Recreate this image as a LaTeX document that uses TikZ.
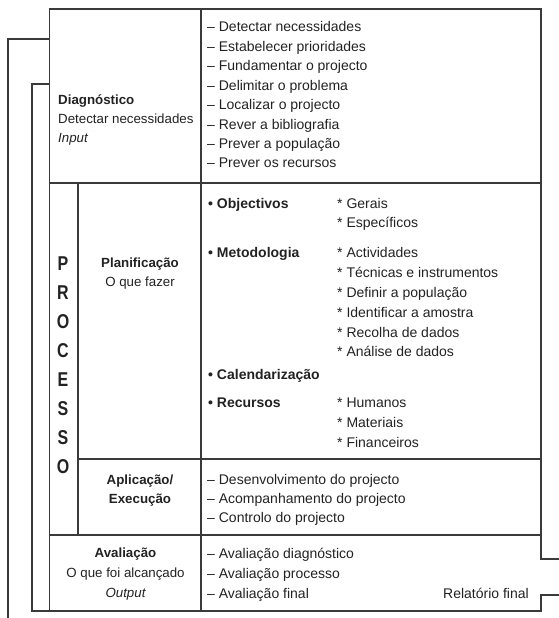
\documentclass[tikz,border=0pt]{standalone}
\usepackage{fontspec}
\setmainfont{Liberation Sans}
\newfontfamily\condfont[FakeStretch=0.8]{Liberation Sans}
\definecolor{ink}{HTML}{222222}
\definecolor{rule}{HTML}{3A3A3A}
\begin{document}
\begin{tikzpicture}[x=1pt,y=-1pt,
  ln/.style={line width=1.1pt, draw=rule, line join=miter},
  txt/.style={anchor=base west, inner sep=0pt, text=ink, font=\fontsize{13.3}{15}\selectfont},
  rtxt/.style={anchor=base west, inner sep=0pt, text=ink, font=\fontsize{14}{16}\selectfont},
  ctxt/.style={anchor=base, inner sep=0pt, text=ink, font=\fontsize{13.3}{15}\selectfont},
  bigl/.style={anchor=base, inner sep=0pt, text=ink, font=\condfont\bfseries\fontsize{20}{22}\selectfont}]
\useasboundingbox (0,0) rectangle (559,618);

% frame coordinates
\coordinate (o1) at (8,618);
\coordinate (o2) at (8,39);
\coordinate (o3) at (49.5,39);
\coordinate (o4) at (49.5,9);
\coordinate (o5) at (541,9);
\coordinate (o6) at (541,559);
\coordinate (o7) at (559,559);
\draw[ln] (o1) -- (o2) -- (o3) -- (o4) -- (o5) -- (o6) -- (o7);

\coordinate (i1) at (559,595);
\coordinate (i2) at (541,595);
\coordinate (i3) at (541,611);
\coordinate (i4) at (32,611);
\coordinate (i5) at (32,84);
\coordinate (i6) at (49.5,84);
\draw[ln] (i1) -- (i2) -- (i3) -- (i4) -- (i5) -- (i6);

% table lines
\draw[ln] (49.5,9) -- (49.5,611);
\draw[ln] (201,9) -- (201,611);
\draw[ln] (49.5,183) -- (541,183);
\draw[ln] (78,183) -- (78,535);
\draw[ln] (78,459) -- (541,459);
\draw[ln] (49.5,535) -- (541,535);

% Diagnostico
\node[txt] (dg1) at (58,104.6) {\bfseries Diagnóstico};
\node[txt] (dg2) at (58,123.6) {Detectar necessidades};
\node[txt] (dg3) at (58,142.6) {\itshape Input};
\foreach \t [count=\i] in {Detectar necessidades, Estabelecer prioridades, Fundamentar o projecto, Delimitar o problema, Localizar o projecto, Rever a bibliografia, Prever a população, Prever os recursos}
  \node[rtxt] (d\i) at (207,{27+19.45*(\i-1)+4.8}) {– \t};

% PROCESSO
\foreach \l [count=\i] in {P,R,O,C,E,S,S,O}
  \node[bigl] (p\i) at (63,{263+29*(\i-1)+7}) {\l};

% Planificacao
\node[ctxt] (pl1) at (140,267.6) {\bfseries Planificação};
\node[ctxt] (pl2) at (140,286.6) {O que fazer};

\node[rtxt] (b1) at (208,208.8) {\bfseries • Objectivos};
\node[rtxt] (s1) at (337,208.8) {* Gerais};
\node[rtxt] (s2) at (337,227.8) {* Específicos};
\node[rtxt] (b2) at (208,257.8) {\bfseries • Metodologia};
\foreach \t [count=\i] in {Actividades, Técnicas e instrumentos, Definir a população, Identificar a amostra, Recolha de dados, Análise de dados}
  \node[rtxt] (m\i) at (337,{253+19.8*(\i-1)+4.8}) {* \t};
\node[rtxt] (b3) at (208,379.8) {\bfseries • Calendarização};
\node[rtxt] (b4) at (208,407.8) {\bfseries • Recursos};
\foreach \t [count=\i] in {Humanos, Materiais, Financeiros}
  \node[rtxt] (r\i) at (337,{403+20*(\i-1)+4.8}) {* \t};

% Aplicacao
\node[ctxt] (ap1) at (140,484.6) {\bfseries Aplicação/};
\node[ctxt] (ap2) at (140,503.6) {\bfseries Execução};
\foreach \t [count=\i] in {Desenvolvimento do projecto, Acompanhamento do projecto, Controlo do projecto}
  \node[rtxt] (a\i) at (207,{480+19*(\i-1)+4.8}) {– \t};

% Avaliacao
\node[ctxt] (av1) at (125.5,557.6) {\bfseries Avaliação};
\node[ctxt] (av2) at (125.5,577.6) {O que foi alcançado};
\node[ctxt] (av3) at (125.5,597.6) {\itshape Output};
\foreach \t [count=\i] in {Avaliação diagnóstico, Avaliação processo, Avaliação final}
  \node[rtxt] (v\i) at (207,{554+19.7*(\i-1)+4.8}) {– \t};
\node[rtxt, anchor=base east] (rel) at (529,598) {Relatório final};
\end{tikzpicture}
\end{document}
